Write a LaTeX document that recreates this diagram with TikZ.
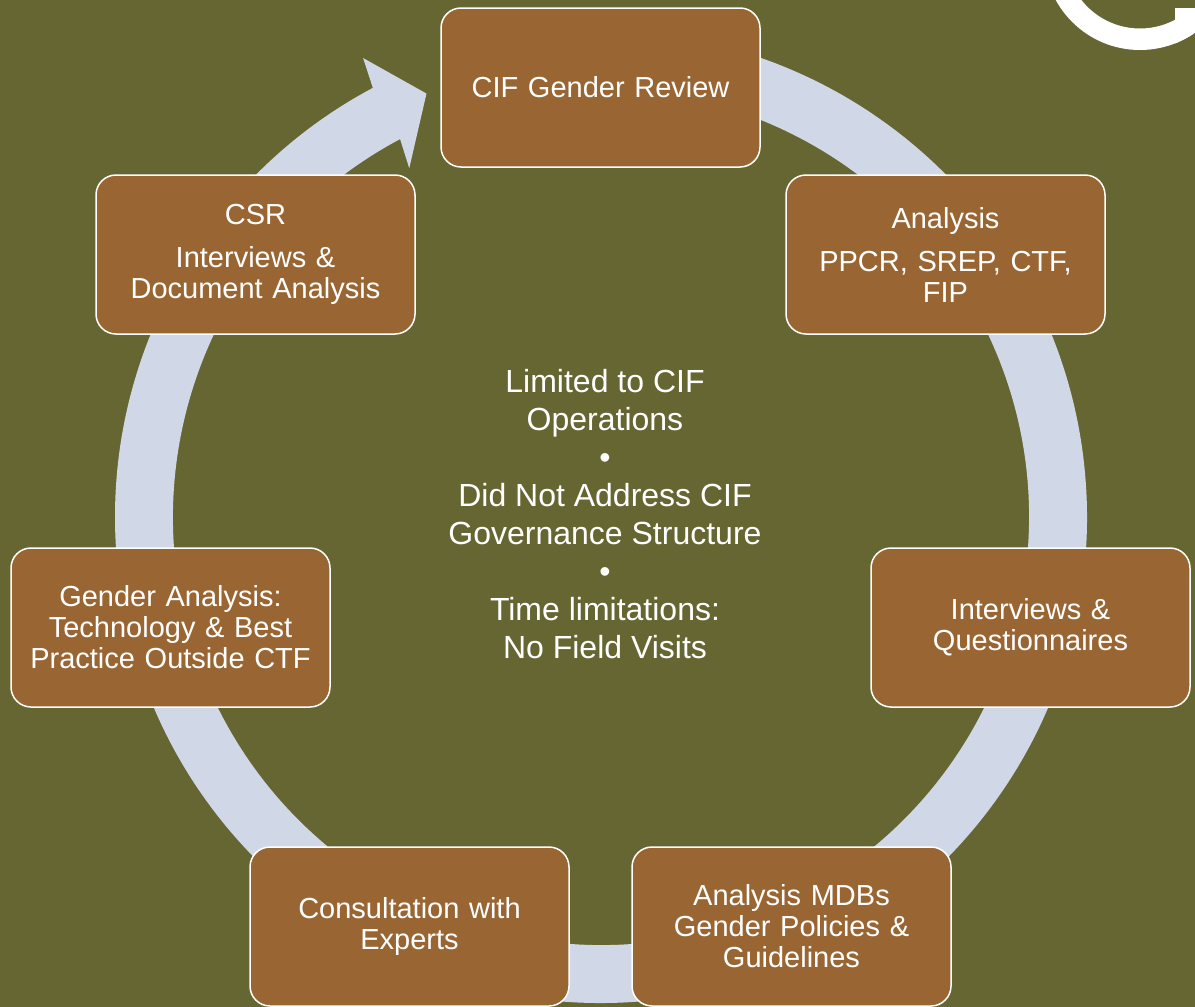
\documentclass[tikz,border=0pt]{standalone}
\usepackage{fontspec}
\setmainfont{Liberation Sans}
\usetikzlibrary{calc}
\definecolor{BackClr}{RGB}{102,102,51}
\definecolor{BoxClr}{RGB}{153,102,51}
\definecolor{RingClr}{RGB}{208,216,232}

\tikzset{
  phase/.style={draw=white,line width=1.5pt,fill=BoxClr,rounded corners=20pt,
    minimum width=319pt,minimum height=159pt,text width=295pt,align=center,
    text=white,inner sep=0pt,font=\fontsize{29}{31}\selectfont},
}

\begin{document}
\begin{tikzpicture}[x=1pt,y=-1pt]
\useasboundingbox (0,0) rectangle (1195,1007);
\fill[BackClr] (0,0) rectangle (1195,1007);

% logo fragment top right
\coordinate (logo) at (1140,-46);
\begin{scope}
\clip (1000,0) -- (1175,0) -- (1175,8) -- (1195,8) -- (1195,200) -- (1000,200) -- cycle;
\fill[white,even odd rule] (logo) circle[radius=96pt] (logo) circle[radius=74.5pt];
\clip (logo) circle[radius=96pt];
\fill[white] (1175,8) rectangle (1195,60);
\end{scope}

% cycle ring with arrow
\coordinate (hub) at (601,517);
\fill[RingClr] ($(hub)+(95:486pt)$) arc[start angle=95,end angle=-242,radius=486pt]
  -- ($(hub)+(117.4:517pt)$) -- ($(hub)+(112.4:458pt)$) -- ($(hub)+(118.8:398pt)$)
  -- ($(hub)+(-242:428pt)$) arc[start angle=-242,end angle=95,radius=428pt] -- cycle;

\node[phase] (cif) at (600.5,87.5) {CIF Gender Review};
\node[phase] (analysis) at (945.5,254.5) {Analysis\\[12pt]PPCR, SREP, CTF,\\FIP};
\node[phase] (interviews) at (1030.5,627.5) {Interviews \&\\Questionnaires};
\node[phase] (mdbs) at (791.5,926.5) {Analysis MDBs\\Gender Policies \&\\Guidelines};
\node[phase] (consult) at (409.5,926.5) {Consultation with\\Experts};
\node[phase] (gender) at (170.5,627.5) {Gender Analysis:\\Technology \& Best\\Practice Outside CTF};
\node[phase] (csr) at (255.5,254.5) {CSR\\[12pt]Interviews \&\\Document Analysis};

\node[text=white,align=center,font=\fontsize{32}{38}\selectfont] (limits) at (605,514)
  {Limited to CIF\\Operations\\•\\Did Not Address CIF\\Governance Structure\\•\\Time limitations:\\No Field Visits};

\end{tikzpicture}
\end{document}
